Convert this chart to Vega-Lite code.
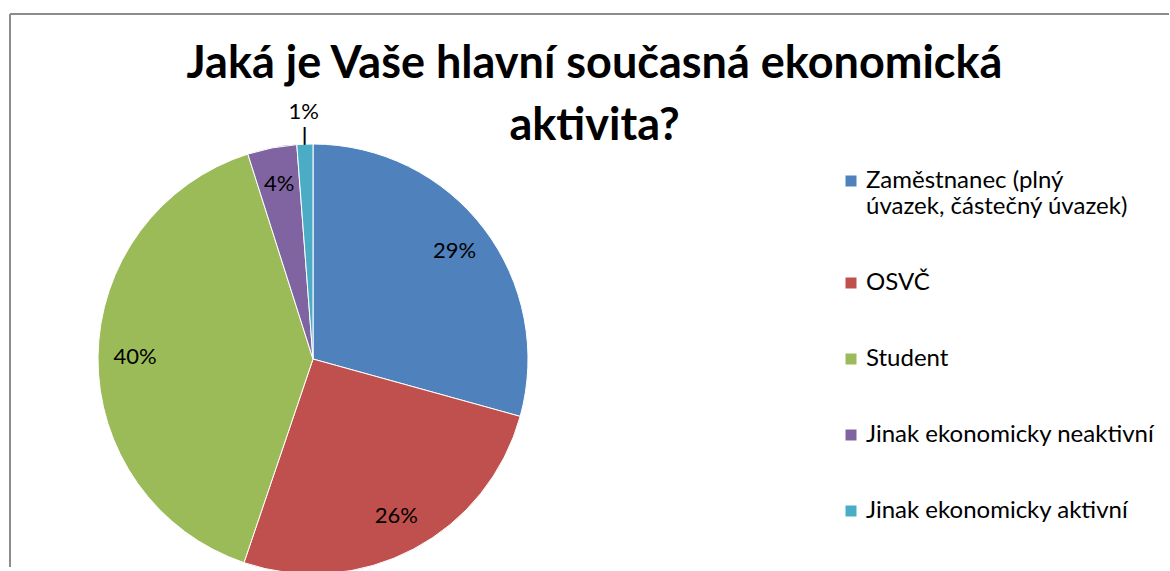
{
  "$schema": "https://vega.github.io/schema/vega-lite/v6.json",
  "width": 1170,
  "height": 571,
  "autosize": {"type": "fit", "contains": "padding"},
  "padding": {"left": 9, "top": 13, "right": 0, "bottom": 0},
  "background": "white",
  "config": {"view": {"stroke": null}},
  "title": {
    "text": ["Jaká je Vaše hlavní současná ekonomická", "aktivita?"],
    "font": "Lato",
    "fontSize": 45,
    "fontWeight": "bold",
    "lineHeight": 62,
    "color": "#000000",
    "anchor": "middle",
    "dx": 5,
    "offset": -136
  },
  "data": {
    "values": [
      {"idx": 1, "category": "Zaměstnanec (plný úvazek, částečný úvazek)", "value": 29.3, "label": "29%"},
      {"idx": 2, "category": "OSVČ", "value": 25.9, "label": "26%"},
      {"idx": 3, "category": "Student", "value": 39.9, "label": "40%"},
      {"idx": 4, "category": "Jinak ekonomicky neaktivní", "value": 3.7, "label": "4%"},
      {"idx": 5, "category": "Jinak ekonomicky aktivní", "value": 1.2, "label": "1%"}
    ]
  },
  "layer": [
    {
      "mark": {"type": "rule", "color": "#8c8c8c", "strokeWidth": 2},
      "encoding": {"x": {"value": 0}}
    },
    {
      "mark": {"type": "rule", "color": "#8c8c8c", "strokeWidth": 2},
      "encoding": {"y": {"value": 0}}
    },
    {
      "mark": {"type": "arc", "outerRadius": 215, "stroke": "white", "strokeWidth": 1},
      "encoding": {
        "x": {"value": 303},
        "y": {"value": 345},
        "theta": {"field": "value", "type": "quantitative", "stack": true},
        "order": {"field": "idx", "type": "quantitative"},
        "color": {
          "field": "category",
          "type": "nominal",
          "sort": null,
          "scale": {
            "domain": ["Zaměstnanec (plný úvazek, částečný úvazek)", "OSVČ", "Student", "Jinak ekonomicky neaktivní", "Jinak ekonomicky aktivní"],
            "range": ["#4F81BD", "#C0504D", "#9BBB59", "#8064A2", "#4BACC6"]
          },
          "legend": {
            "title": null,
            "orient": "none",
            "legendX": 829,
            "legendY": 155,
            "symbolType": "square",
            "symbolSize": 121,
            "symbolStrokeWidth": 0,
            "labelFont": "Lato",
            "labelFontSize": 24,
            "labelColor": "#000000",
            "labelLimit": 400,
            "labelOffset": 3,
            "rowPadding": 52,
            "labelExpr": "datum.label == 'Zaměstnanec (plný úvazek, částečný úvazek)' ? ['Zaměstnanec (plný', 'úvazek, částečný úvazek)'] : datum.label"
          }
        }
      }
    },
    {
      "mark": {"type": "text", "radius": 178, "font": "Lato", "fontSize": 22, "color": "#000000"},
      "encoding": {
        "x": {"value": 303},
        "y": {"value": 345},
        "theta": {"field": "value", "type": "quantitative", "stack": true},
        "order": {"field": "idx", "type": "quantitative"},
        "text": {"condition": {"test": "datum.idx == 5", "value": ""}, "field": "label"}
      }
    },
    {
      "mark": {"type": "text", "radius": 247, "font": "Lato", "fontSize": 22, "color": "#000000"},
      "encoding": {
        "x": {"value": 303},
        "y": {"value": 345},
        "theta": {"field": "value", "type": "quantitative", "stack": true},
        "order": {"field": "idx", "type": "quantitative"},
        "text": {"condition": {"test": "datum.idx == 5", "field": "label"}, "value": ""}
      }
    },
    {
      "mark": {"type": "text", "radius": 223, "font": "DejaVu Sans", "fontSize": 17, "fontWeight": "bold", "color": "#000000"},
      "encoding": {
        "x": {"value": 303},
        "y": {"value": 345},
        "theta": {"field": "value", "type": "quantitative", "stack": true},
        "order": {"field": "idx", "type": "quantitative"},
        "text": {"condition": {"test": "datum.idx == 5", "value": "|"}, "value": ""}
      }
    }
  ]
}
